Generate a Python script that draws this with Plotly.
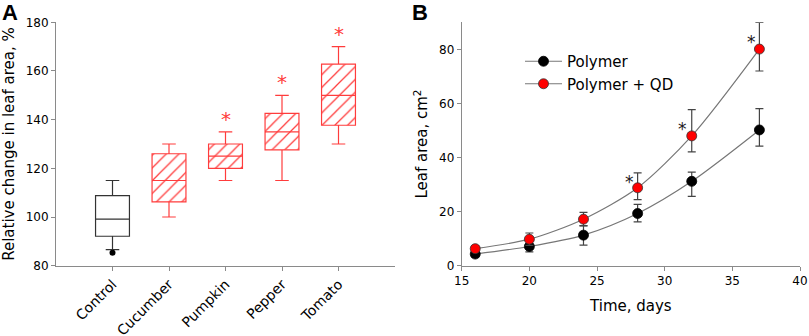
import plotly.graph_objects as go

# ---------- Panel A data ----------
categories = ["Control", "Cucumber", "Pumpkin", "Pepper", "Tomato"]
q1 = [92.1, 106.2, 120.0, 127.6, 137.7]
median = [99.1, 115.0, 125.0, 135.0, 150.0]
q3 = [108.8, 126.0, 130.0, 142.6, 162.8]
lower = [86.6, 100.0, 115.0, 115.0, 130.0]
upper = [115.0, 130.0, 135.0, 150.0, 170.0]
outlier_cat = ["Control"]
outlier_val = [85.3]
star_cats = ["Pumpkin", "Pepper", "Tomato"]
star_vals_a = [140.6, 155.9, 175.6]

# ---------- Panel B data ----------
days = [16, 20, 24, 28, 32, 37]
polymer = [4.3, 7.1, 11.3, 19.3, 31.2, 50.2]
polymer_err_plus = [1.0, 2.0, 3.5, 3.4, 3.4, 7.9]
polymer_err_minus = [1.0, 2.0, 3.7, 3.1, 5.6, 6.0]
qd = [6.3, 9.8, 17.2, 28.8, 48.0, 80.1]
qd_err_plus = [1.0, 2.3, 2.5, 5.5, 9.7, 9.9]
qd_err_minus = [1.0, 2.3, 2.5, 4.4, 5.9, 8.1]
star_days = [27.4, 31.3, 36.4]
star_vals_b = [31.5, 50.9, 83.0]

RED = "#ff3c3c"
DARK = "#333333"
AXIS = "#8a8a8a"
FONT = "DejaVu Sans"

fig = go.Figure()

# hatch fill for treated boxes (bars from q1 to q3)
fig.add_trace(go.Bar(
    x=categories[1:], y=[b - a for a, b in zip(q1[1:], q3[1:])], base=q1[1:],
    width=0.6, xaxis="x", yaxis="y", showlegend=False, hoverinfo="skip",
    marker=dict(color="rgba(0,0,0,0)", line=dict(width=0),
                pattern=dict(shape="/", fgcolor=RED, bgcolor="rgba(0,0,0,0)",
                             size=9, solidity=0.14, fillmode="replace")),
))

for i, c in enumerate(categories):
    col = DARK if i == 0 else RED
    fig.add_trace(go.Box(
        x=[c], q1=[q1[i]], median=[median[i]], q3=[q3[i]],
        lowerfence=[lower[i]], upperfence=[upper[i]],
        width=0.6, whiskerwidth=0.4, line=dict(color=col, width=1.2),
        fillcolor="rgba(0,0,0,0)", xaxis="x", yaxis="y", showlegend=False,
        boxpoints=False,
    ))

fig.add_trace(go.Scatter(
    x=outlier_cat, y=outlier_val, mode="markers", xaxis="x", yaxis="y",
    marker=dict(color="black", size=6), showlegend=False,
))

# ---------- Panel B ----------
fig.add_trace(go.Scatter(
    x=days, y=polymer, mode="lines+markers", name="Polymer", xaxis="x2", yaxis="y2",
    line=dict(color="#777777", width=1.2, shape="spline", smoothing=0.8),
    marker=dict(color="black", size=10, line=dict(color="black", width=0.8)),
    error_y=dict(type="data", array=polymer_err_plus, arrayminus=polymer_err_minus,
                 color="#444444", thickness=1.2, width=4),
))
fig.add_trace(go.Scatter(
    x=days, y=qd, mode="lines+markers", name="Polymer + QD", xaxis="x2", yaxis="y2",
    line=dict(color="#777777", width=1.2, shape="spline", smoothing=0.8),
    marker=dict(color="#ff0000", size=10, line=dict(color="#333333", width=0.8)),
    error_y=dict(type="data", array=qd_err_plus, arrayminus=qd_err_minus,
                 color="#444444", thickness=1.2, width=4),
))

annotations = []
for c, v in zip(star_cats, star_vals_a):
    annotations.append(dict(x=c, y=v, xref="x", yref="y", text="*", showarrow=False,
                            font=dict(family=FONT, size=20, color=RED), yshift=-1))
for d, v in zip(star_days, star_vals_b):
    annotations.append(dict(x=d, y=v, xref="x2", yref="y2", text="*", showarrow=False,
                            font=dict(family=FONT, size=17, color="#221a22"), yshift=-1))
annotations.append(dict(x=0.0, y=1.0, xref="paper", yref="paper", xanchor="left", yanchor="top",
                        text="<b>A</b>", showarrow=False, yshift=2, xshift=0,
                        font=dict(family="Liberation Sans", size=22, color="black")))
annotations.append(dict(x=411 / 809, y=1.0, xref="paper", yref="paper", xanchor="left", yanchor="top",
                        text="<b>B</b>", showarrow=False, yshift=2, xshift=-1,
                        font=dict(family="Liberation Sans", size=22, color="black")))

ydom = [1 - 265.7 / 336, 1 - 22.3 / 336]
axis_common = dict(showline=True, linecolor=AXIS, linewidth=1, ticks="outside",
                   tickcolor=AXIS, ticklen=4, showgrid=False, zeroline=False,
                   automargin=False, tickfont=dict(family=FONT, size=12, color="black"))

fig.update_layout(
    template="none",
    width=809, height=336, margin=dict(l=0, r=0, t=0, b=0, pad=0),
    paper_bgcolor="white", plot_bgcolor="white",
    font=dict(family=FONT, color="black"),
    barmode="overlay", boxmode="overlay",
    xaxis=dict(domain=[56 / 809, 395 / 809], type="category", range=[-1, 5],
               categoryorder="array", categoryarray=categories, tickangle=-45,
               anchor="y", **{**axis_common, "tickfont": dict(family=FONT, size=14, color="black")}),
    yaxis=dict(domain=ydom, range=[80, 180], tickvals=[80, 100, 120, 140, 160, 180],
               anchor="x", title=dict(text="Relative change in leaf area, %",
                                      font=dict(family=FONT, size=15), standoff=8),
               **axis_common),
    xaxis2=dict(domain=[461.7 / 809, 800 / 809], range=[15, 40], tickvals=[15, 20, 25, 30, 35, 40],
                anchor="y2", ticklabeloverflow="allow",
                title=dict(text="Time, days", font=dict(family=FONT, size=15), standoff=13),
                **axis_common),
    yaxis2=dict(domain=ydom, range=[0, 90], tickvals=[0, 20, 40, 60, 80], anchor="x2",
                title=dict(text="Leaf area, cm<sup>2</sup>", font=dict(family=FONT, size=15), standoff=7),
                **axis_common),
    legend=dict(x=520 / 809, y=1 - 45 / 336, xanchor="left", yanchor="top",
                font=dict(family=FONT, size=15, color="black"), bgcolor="rgba(0,0,0,0)",
                tracegroupgap=0, itemwidth=37),
    annotations=annotations,
)

fig.write_html("out.html", config={"displayModeBar": False},
               post_script="document.body.style.margin='0';")
